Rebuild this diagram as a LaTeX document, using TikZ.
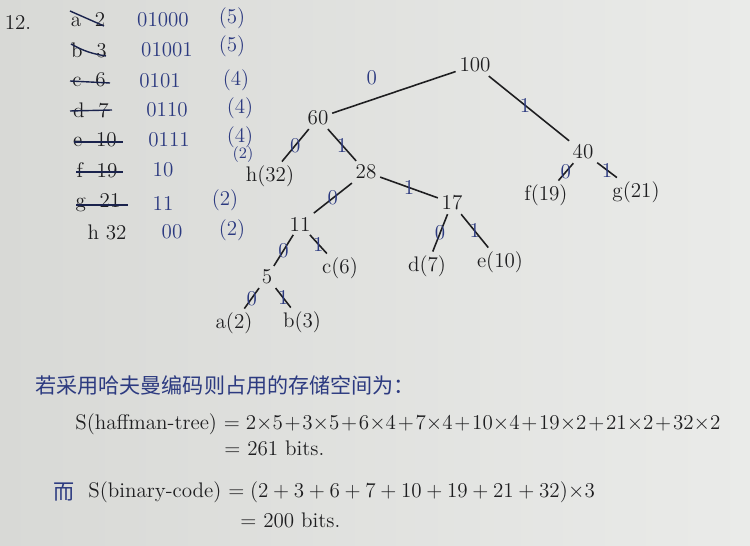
\documentclass[tikz,border=0pt]{standalone}
\usepackage{fontspec}
\newfontfamily\cjk{Noto Sans CJK SC}
\usetikzlibrary{positioning}
\definecolor{ink}{RGB}{30,30,32}
\definecolor{blueink}{RGB}{44,58,128}
\definecolor{paperdark}{RGB}{216,217,214}
\definecolor{paperlight}{RGB}{234,235,233}

\begin{document}
\begin{tikzpicture}[
  x=0.02cm, y=-0.02cm,
  font=\large,
  num/.style={text=ink, inner sep=2pt},
  code/.style={text=blueink, inner sep=1pt},
  bit/.style={text=blueink, inner sep=0pt},
  edge/.style={draw=ink, line width=0.9pt},
  strike/.style={draw=blueink!60!black, line width=0.8pt},
  textline/.style={anchor=west, inner sep=0pt, text=ink},
]
\shade[left color=paperdark, right color=paperlight] (0,0) rectangle (750,546);
\useasboundingbox (0,0) rectangle (750,546);

% code table
\node[num] (title) at (18,22) {12.};
\node[num] (wa) at (88,20) {a\ \ 2};
\node[num] (wb) at (89,50) {b\ \ 3};
\node[num] (wc) at (89,80) {c\ \ 6};
\node[num] (wd) at (91,110) {d\ \ 7};
\node[num] (we) at (95,140) {e\ \ 10};
\node[num] (wf) at (97,170) {f\ \ 19};
\node[num] (wg) at (98,203) {g\ \ 21};
\node[num] (wh) at (107,232) {h\ 32};

\node[code] (ca) at (163,20) {01000};
\node[code] (cb) at (167,50) {01001};
\node[code] (cc) at (160,81) {0101};
\node[code] (cd) at (167,110) {0110};
\node[code] (ce) at (169,140) {0111};
\node[code] (cf) at (163,170) {10};
\node[code] (cg) at (163,203) {11};
\node[code] (ch) at (172,232) {00};

\node[code] (la) at (232,18) {(5)};
\node[code] (lb) at (232,46) {(5)};
\node[code] (lc) at (236,80) {(4)};
\node[code] (ld) at (240,108) {(4)};
\node[code] (le) at (240,137) {(4)};
\node[code, font=\small] (lf) at (243,155) {(2)};
\node[code] (lg) at (225,200) {(2)};
\node[code] (lh) at (232,230) {(2)};

% crossed-out weights
\draw[strike] (70,11) -- (104,26);
\draw[strike] (71,44) to[bend right=10] (106,56);
\draw[strike] (70,81) -- (110,83);
\draw[strike] (70,111) -- (112,110);
\draw[strike] (74,142) -- (123,142);
\draw[strike] (76,172) -- (123,172);
\draw[strike] (76,205) -- (128,205);

% tree
\node[num] (n100) at (475,65) {100};
\node[num] (n60) at (318,118) {60};
\node[num] (n40) at (583,152) {40};
\node[num] (h) at (270,176) {h(32)};
\node[num] (n28) at (366,172) {28};
\node[num] (n17) at (452,203) {17};
\node[num] (f) at (546,195) {f(19)};
\node[num] (g) at (636,192) {g(21)};
\node[num] (n11) at (300,224) {11};
\node[num] (c) at (340,268) {c(6)};
\node[num] (d) at (427,266) {d(7)};
\node[num] (e) at (500,262) {e(10)};
\node[num] (n5) at (267,277) {5};
\node[num] (a) at (234,323) {a(2)};
\node[num] (b) at (302,322) {b(3)};

\draw[edge] (n100) -- node[bit, pos=0.68, above=8pt] {0} (n60);
\draw[edge] (n100) -- node[bit, pos=0.45] {1} (n40);
\draw[edge] (n60) -- node[bit] {0} (h);
\draw[edge] (n60) -- node[bit] {1} (n28);
\draw[edge] (n28) -- node[bit] {0} (n11);
\draw[edge] (n28) -- node[bit] {1} (n17);
\draw[edge] (n40) -- node[bit] {0} (f);
\draw[edge] (n40) -- node[bit] {1} (g);
\draw[edge] (n11) -- node[bit] {0} (n5);
\draw[edge] (n11) -- node[bit] {1} (c);
\draw[edge] (n17) -- node[bit] {0} (d);
\draw[edge] (n17) -- node[bit] {1} (e);
\draw[edge] (n5) -- node[bit] {0} (a);
\draw[edge] (n5) -- node[bit] {1} (b);

% storage comparison
\node[textline, text=blueink] (note) at (35,385) {\cjk 若采用哈夫曼编码则占用的存储空间为：};
\node[textline] (huff) at (75,424) {\medmuskip=1.5mu S(haffman-tree) $= 2{\times}5+3{\times}5+6{\times}4+7{\times}4+10{\times}4+19{\times}2+21{\times}2+32{\times}2$};
\node[textline] (hsum) at (224,448) {$=$ 261 bits.};
\node[textline, text=blueink] (er) at (53,492) {\cjk 而};
\node[textline] (bin) at (88,492) {S(binary-code) $= (2+3+6+7+10+19+21+32){\times}3$};
\node[textline] (bsum) at (240,520) {$=$ 200 bits.};

\end{tikzpicture}
\end{document}
